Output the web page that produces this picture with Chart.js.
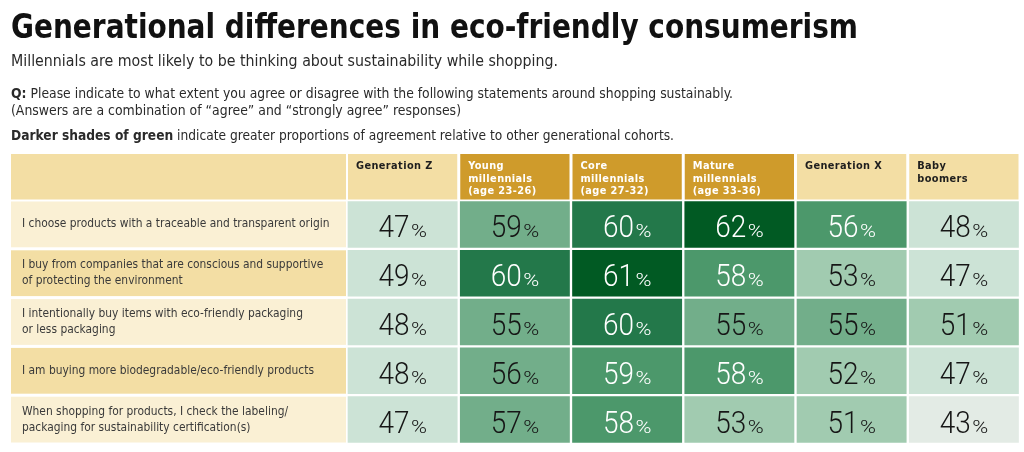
<!DOCTYPE html>
<html lang="en">
<head>
<meta charset="UTF-8">
<title>Generational differences in eco-friendly consumerism</title>
<style>
  html, body { margin: 0; padding: 0; background: #fff; }
  #wrap { position: relative; width: 1024px; height: 452px; }
</style>
</head>
<body>
<div id="wrap"><canvas id="heat"></canvas></div>

<script src="https://cdn.jsdelivr.net/npm/chart.js@4.4.0/dist/chart.umd.min.js"></script>
<script>
// column headers, one entry per printed line
var generations = [
    ['Generation Z'],
    ['Young', 'millennials', '(age 23-26)'],
    ['Core', 'millennials', '(age 27-32)'],
    ['Mature', 'millennials', '(age 33-36)'],
    ['Generation X'],
    ['Baby', 'boomers']
];
var millennialCols = [false, true, true, true, false, false];

// row labels
var statements = [
    ['I choose products with a traceable and transparent origin'],
    ['I buy from companies that are conscious and supportive', 'of protecting the environment'],
    ['I intentionally buy items with eco-friendly packaging', 'or less packaging'],
    ['I am buying more biodegradable/eco-friendly products'],
    ['When shopping for products, I check the labeling/', 'packaging for sustainability certification(s)']
];

// % agreeing, one array per cohort (rows in statement order)
var genZ     = [47, 49, 48, 48, 47];
var young    = [59, 60, 55, 56, 57];
var core     = [60, 61, 60, 59, 58];
var mature   = [62, 58, 55, 58, 53];
var genX     = [56, 53, 55, 52, 51];
var boomers  = [48, 47, 51, 47, 43];

// shade step of each cell as printed (0 = lightest, 6 = darkest)
var genZShade    = [1, 1, 1, 1, 1];
var youngShade   = [3, 5, 3, 3, 3];
var coreShade    = [5, 6, 5, 4, 4];
var matureShade  = [6, 4, 3, 4, 2];
var genXShade    = [4, 2, 3, 2, 2];
var boomersShade = [1, 1, 2, 1, 0];

var values = [genZ, young, core, mature, genX, boomers];
var shades = [genZShade, youngShade, coreShade, matureShade, genXShade, boomersShade];

var greens = ['#e3ebe5', '#cce3d6', '#a1cbb0', '#72ae8a', '#4c986b', '#23784a', '#015a23'];
var CONDENSED = '"Liberation Sans Narrow", "DejaVu Sans Condensed", sans-serif';
var NUMFONT = 'Roboto, "DejaVu Sans", sans-serif';

var measureCtx = document.createElement('canvas').getContext('2d');
function measure(text, font) {
    measureCtx.font = font;
    return measureCtx.measureText(text).width;
}

// pick a size so the first row label comes out at the printed width
var labelSize = Math.min(13, 12 * 308 / measure(statements[0][0], '12px ' + CONDENSED));
var headSize = Math.min(13, 12 * 72 / measure('Generation Z', 'bold 12px ' + CONDENSED));

// draws text squeezed/stretched to a given width
function fitText(ctx, parts, x, y, width) {
    var total = 0;
    parts.forEach(function(p) { total += measure(p[0], p[1]); });
    ctx.save();
    ctx.translate(x, y);
    ctx.scale(width / total, 1);
    var cx = 0;
    parts.forEach(function(p) {
        ctx.font = p[1];
        ctx.fillText(p[0], cx, 0);
        cx += measure(p[0], p[1]);
    });
    ctx.restore();
}

var tablePlugin = {
    id: 'tablePlugin',
    beforeDraw: function(chart) {
        var ctx = chart.ctx;
        var xs = chart.scales.x, area = chart.chartArea;

        ctx.save();
        ctx.textBaseline = 'alphabetic';
        ctx.textAlign = 'left';
        ctx.fillStyle = '#111';
        fitText(ctx, [['Generational differences in eco-friendly consumerism', 'bold 34px ' + CONDENSED]], 11, 38, 847);
        ctx.fillStyle = '#2a2a2a';
        fitText(ctx, [['Millennials are most likely to be thinking about sustainability while shopping.', '15.5px ' + CONDENSED]], 11, 66, 547);
        fitText(ctx, [['Q:', 'bold 14px ' + CONDENSED],
                      [' Please indicate to what extent you agree or disagree with the following statements around shopping sustainably.', '14px ' + CONDENSED]], 11, 98, 722);
        fitText(ctx, [['(Answers are a combination of \u201Cagree\u201D and \u201Cstrongly agree\u201D responses)', '14px ' + CONDENSED]], 11, 115, 450);
        fitText(ctx, [['Darker shades of green', 'bold 14px ' + CONDENSED],
                      [' indicate greater proportions of agreement relative to other generational cohorts.', '14px ' + CONDENSED]], 11, 140, 663);

        // header row
        var headTop = 154, headBottom = area.top - 0.5;
        ctx.fillStyle = '#f3dea4';
        ctx.fillRect(11, headTop, area.left - 0.5 - 11, headBottom - headTop);
        generations.forEach(function(lines, j) {
            var l = xs.getPixelForValue(j) + 1.5, r = xs.getPixelForValue(j + 1) - 1.5;
            ctx.fillStyle = millennialCols[j] ? '#cf9b2b' : '#f3dea4';
            ctx.fillRect(l, headTop, r - l, headBottom - headTop);
            ctx.fillStyle = millennialCols[j] ? '#ffffff' : '#1e1e1e';
            ctx.font = 'bold ' + headSize + 'px ' + CONDENSED;
            ctx.letterSpacing = '0.4px';
            lines.forEach(function(line, k) {
                ctx.fillText(line, l + 8, 169 + k * 12.5);
            });
            ctx.letterSpacing = '0px';
        });

        // label column bands
        var band = (area.bottom - area.top) / statements.length;
        statements.forEach(function(s, i) {
            var t = area.top + i * band;
            ctx.fillStyle = i % 2 === 0 ? '#faf0d4' : '#f3dea4';
            ctx.fillRect(11, t + 1.5, area.left - 0.5 - 11, band - 3);
        });
        ctx.restore();
    },
    afterDatasetsDraw: function(chart) {
        var ctx = chart.ctx;
        var numFont = '300 32px ' + NUMFONT;
        var pctFont = '300 18px ' + NUMFONT;
        var numSqueeze = 31 / measure('47', numFont);
        var pctW = 16, gap = 1.5;
        var pctScale = pctW / measure('%', pctFont);
        ctx.save();
        ctx.textBaseline = 'alphabetic';
        ctx.textAlign = 'left';
        chart.data.datasets.forEach(function(ds, j) {
            var meta = chart.getDatasetMeta(j);
            meta.data.forEach(function(el, i) {
                var num = String(values[j][i]);
                var w1 = measure(num, numFont) * numSqueeze;
                var cx = (el.x + el.base) / 2;
                var x0 = cx - (w1 + gap + pctW) / 2;
                var y = el.y + 13;
                ctx.fillStyle = shades[j][i] >= 4 ? '#ffffff' : '#161616';

                ctx.save();
                ctx.translate(x0, y);
                ctx.scale(numSqueeze, 1);
                ctx.font = numFont;
                ctx.fillText(num, 0, 0);
                ctx.restore();

                ctx.save();
                ctx.translate(x0 + w1 + gap, y);
                ctx.scale(pctScale, 1);
                ctx.font = pctFont;
                ctx.fillText('%', 0, 0);
                ctx.restore();
            });
        });
        ctx.restore();
    }
};

var datasets = generations.map(function(g, j) {
    return {
        label: g.join(' '),
        data: statements.map(function() { return 1; }),
        backgroundColor: shades[j].map(function(s) { return greens[s]; }),
        borderColor: '#ffffff',
        borderWidth: 1.5,
        borderSkipped: false,
        barPercentage: 1,
        categoryPercentage: 1
    };
});

var ctx = document.getElementById('heat').getContext('2d');
var chart = new Chart(ctx, {
    type: 'bar',
    data: {
        labels: statements,
        datasets: datasets
    },
    options: {
        indexAxis: 'y',
        responsive: true,
        maintainAspectRatio: false,
        animation: false,
        events: [],
        layout: { padding: { left: 22, right: 4, top: 200, bottom: 7 } },
        plugins: {
            legend: { display: false },
            tooltip: { enabled: false }
        },
        scales: {
            x: { stacked: true, min: 0, max: 6, display: false },
            y: {
                stacked: true,
                grid: { display: false },
                border: { display: false },
                ticks: {
                    crossAlign: 'far',
                    padding: 0,
                    color: '#3a3a3a',
                    font: { family: CONDENSED, size: labelSize, lineHeight: 16 / labelSize }
                },
                afterFit: function(scale) { scale.width = 324.5; }
            }
        }
    },
    plugins: [tablePlugin]
});
</script>
</body>
</html>
